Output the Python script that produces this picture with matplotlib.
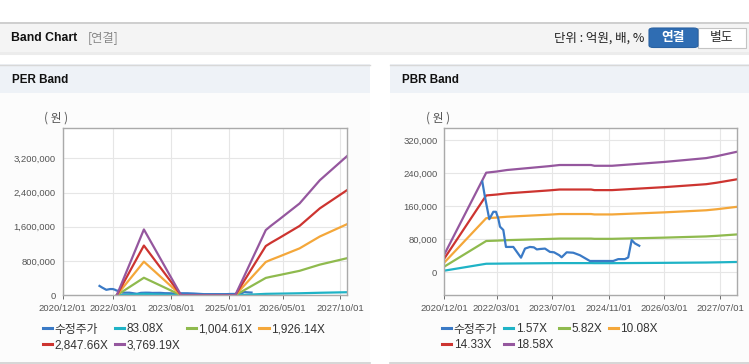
import numpy as np
import pandas as pd
import matplotlib
matplotlib.use("Agg")
import matplotlib.pyplot as plt
import matplotlib.dates as mdates
from matplotlib.patches import Rectangle, FancyBboxPatch
from matplotlib.lines import Line2D
from matplotlib.ticker import FuncFormatter

plt.rcParams['font.family'] = ['Liberation Sans', 'Noto Sans CJK KR', 'DejaVu Sans']

W, H = 749, 364

# ---- data ----
price_dates = ['2021-10-28', '2021-11-20', '2021-12-28', '2022-02-01', '2022-02-24',
               '2022-03-16', '2022-03-31', '2022-04-29', '2022-05-22', '2022-07-25',
               '2022-09-30', '2022-11-04', '2022-12-17', '2023-01-20', '2023-02-15',
               '2023-03-14', '2023-04-27', '2023-06-09', '2023-07-15', '2023-08-29',
               '2023-09-19', '2023-11-02', '2023-12-29', '2024-02-25', '2024-05-22',
               '2024-12-11', '2025-01-24', '2025-03-23', '2025-04-21', '2025-05-21',
               '2025-06-18', '2025-07-26']
price_vals = [219000, 182000, 128000, 146000, 146000,
              130000, 110000, 102000, 61000, 61000,
              35000, 57000, 61000, 60000, 55000,
              56000, 57000, 49000, 48000, 41000,
              36000, 48000, 47000, 41000, 27000,
              27000, 31500, 31500, 35600, 77600,
              69600, 63800]

# EPS base for PER band (원)
eps_dates = ['2022-04-01', '2022-12-01', '2023-11-01', '2025-03-01', '2025-12-01',
             '2026-01-15', '2026-04-01', '2026-10-01', '2027-04-01', '2027-12-01']
eps_vals = [0, 408, 0, 0, 404, 430, 470, 569, 713, 862]
per_multiples = [83.08, 1004.61, 1926.14, 2847.66, 3769.19]
per_labels = ['83.08X', '1,004.61X', '1,926.14X', '2,847.66X', '3,769.19X']

# BPS base for PBR band (원)
bps_dates = ['2020-12-01', '2021-12-01', '2022-03-01', '2022-06-01', '2022-12-01',
             '2023-06-01', '2023-09-01', '2024-06-01', '2024-07-01', '2024-12-01',
             '2025-03-01', '2025-09-01', '2026-03-01', '2026-09-01', '2027-03-01',
             '2027-06-01', '2027-12-01']
bps_vals = [2300, 12950, 13100, 13300, 13550,
            13800, 13950, 13950, 13850, 13850,
            13950, 14150, 14350, 14600, 14850,
            15100, 15700]
pbr_multiples = [1.57, 5.82, 10.08, 14.33, 18.58]
pbr_labels = ['1.57X', '5.82X', '10.08X', '14.33X', '18.58X']

per_xticks = ['2020-12-01', '2022-03-01', '2023-08-01', '2025-01-01', '2026-05-01', '2027-10-01']
pbr_xticks = ['2020-12-01', '2022-03-01', '2023-07-01', '2024-11-01', '2026-03-01', '2027-07-01']
per_yticks = [0, 800000, 1600000, 2400000, 3200000]
pbr_yticks = [0, 80000, 160000, 240000, 320000]

price_color = '#3a7ac6'
band_colors = ['#1fb3c6', '#8fba4e', '#f4a73a', '#cd3430', '#95579e']


def fx(x):
    return x / W


def fy(y):
    return 1 - y / H


fig = plt.figure(figsize=(W / 100, H / 100), dpi=100)
fig.patch.set_facecolor('white')


def rect(x0, y0, x1, y1, color, z=-5, **kw):
    fig.patches.append(Rectangle((fx(x0), fy(y1)), fx(x1 - x0), (y1 - y0) / H,
                                 transform=fig.transFigure, facecolor=color,
                                 edgecolor='none', zorder=z, **kw))


def hline(x0, x1, y, color, lw=1.0):
    fig.add_artist(Line2D([fx(x0), fx(x1)], [fy(y), fy(y)], transform=fig.transFigure,
                          color=color, lw=lw, zorder=-4))


# top header bar
rect(0, 22, W, 53, '#f4f4f4')
hline(0, W, 22.5, '#c8c8c8', 1.2)
hline(0, W, 52.5, '#cfcfcf', 1.0)
hline(0, W, 54, '#ececec', 1.5)
fig.text(fx(11), fy(38), 'Band Chart', fontsize=8.8, fontweight='bold', va='center', color='#111111')
fig.text(fx(88), fy(38), '[연결]', fontsize=8.8, va='center', color='#888888',
         family=['Noto Sans CJK KR'])
fig.text(fx(644), fy(38), '단위 : 억원, 배, %', fontsize=9.0, va='center', ha='right',
         color='#222222', family=['Noto Sans CJK KR', 'DejaVu Sans'])
fig.patches.append(FancyBboxPatch((fx(649), fy(47.5)), fx(49), 19.5 / H,
                                  boxstyle='round,pad=0,rounding_size=0.006',
                                  transform=fig.transFigure, facecolor='#2f6db3',
                                  edgecolor='#2a62a2', lw=0.8, zorder=-3))
fig.add_artist(Rectangle((fx(698), fy(47.5)), fx(48), 19.5 / H, transform=fig.transFigure,
                         facecolor='white', edgecolor='#c4c4c4', lw=0.8, zorder=-3))
fig.text(fx(673.5), fy(38), '연결', fontsize=9.2, va='center', ha='center', color='white',
         fontweight='bold', family=['Noto Sans CJK KR'])
fig.text(fx(722), fy(38), '별도', fontsize=9.2, va='center', ha='center', color='#333333',
         family=['Noto Sans CJK KR'])

# panels
for x0, x1, title in [(0, 370, 'PER Band'), (390, W, 'PBR Band')]:
    rect(x0, 64, x1, 362, '#fcfcfc')
    rect(x0, 64, x1, 92.7, '#eef2f7')
    hline(x0, x1, 64.5, '#d8d8d8', 1.0)
    hline(x0, x1, 362.5, '#cfcfcf', 1.2)
    fig.text(fx(x0 + 11.5), fy(80), title, fontsize=8.4, fontweight='bold', va='center',
             color='#111111')


def make_axes(l, r, t, b):
    ax = fig.add_axes([fx(l), fy(b), fx(r - l), (b - t) / H])
    ax.set_zorder(5)
    ax.set_facecolor('white')
    for s in ax.spines.values():
        s.set_color('#aaaaaa')
        s.set_linewidth(1.0)
    ax.grid(True, color='#e6e6e6', lw=0.8)
    ax.set_axisbelow(True)
    ax.tick_params(labelsize=6.8, colors='#555555', length=3, width=0.6)
    ax.tick_params(axis='y', length=0, pad=5)
    return ax


comma = FuncFormatter(lambda v, p: f'{int(v):,}')

pd_price = pd.to_datetime(price_dates)

# ---- PER ----
ax1 = make_axes(62.7, 347.3, 128.3, 295.3)
eps_d = pd.to_datetime(eps_dates)
eps = np.array(eps_vals, dtype=float)
h_price1, = ax1.plot(pd_price, price_vals, color=price_color, lw=1.6, label='수정주가')
h1 = []
for m, lab, c in zip(per_multiples, per_labels, band_colors):
    h, = ax1.plot(eps_d, eps * m, color=c, lw=1.6, label=lab)
    h1.append(h)
ax1.set_xlim(pd.Timestamp('2020-12-01'), pd.Timestamp('2027-12-04'))
ax1.set_ylim(0, 3900000)
ax1.set_yticks(per_yticks)
ax1.yaxis.set_major_formatter(comma)
ax1.set_xticks(pd.to_datetime(per_xticks))
ax1.xaxis.set_major_formatter(mdates.DateFormatter('%Y/%m/%d'))
fig.text(fx(68.5), fy(118.5), '( 원 )', fontsize=8.5, ha='right', va='center', color='#555555',
         family=['Noto Sans CJK KR'])

# ---- PBR ----
ax2 = make_axes(444.3, 737.3, 128.3, 295.3)
bps_d = pd.to_datetime(bps_dates)
bps = np.array(bps_vals, dtype=float)
h2 = []
for m, lab, c in zip(pbr_multiples, pbr_labels, band_colors):
    h, = ax2.plot(bps_d, bps * m, color=c, lw=1.6, label=lab)
    h2.append(h)
h_price2, = ax2.plot(pd_price, price_vals, color=price_color, lw=1.6, label='수정주가')
ax2.set_xlim(pd.Timestamp('2020-12-01'), pd.Timestamp('2027-11-27'))
ax2.set_ylim(-56000, 348000)
ax2.set_yticks(pbr_yticks)
ax2.yaxis.set_major_formatter(comma)
ax2.set_xticks(pd.to_datetime(pbr_xticks))
ax2.xaxis.set_major_formatter(mdates.DateFormatter('%Y/%m/%d'))
fig.text(fx(450.5), fy(118.5), '( 원 )', fontsize=8.5, ha='right', va='center', color='#555555',
         family=['Noto Sans CJK KR'])

# legends (column-major order so rows read like the original)
leg_kw = dict(ncol=4, frameon=False, fontsize=8.5, handlelength=0.8, handletextpad=0.2,
              columnspacing=0.55, labelspacing=0.3, borderpad=0, borderaxespad=0,
              loc='upper left', bbox_transform=fig.transFigure, labelcolor='#333333')
order1 = [h_price1, h1[3], h1[0], h1[4], h1[1], h1[2]]
leg1 = ax1.legend(order1, [h.get_label() for h in order1],
                  bbox_to_anchor=(fx(42.5), fy(323.5)), **leg_kw)
order2 = [h_price2, h2[3], h2[0], h2[4], h2[1], h2[2]]
leg2 = ax2.legend(order2, [h.get_label() for h in order2],
                  bbox_to_anchor=(fx(442), fy(323.5)), **leg_kw)
for lg in (leg1, leg2):
    for ln in lg.get_lines():
        ln.set_linewidth(2.2)

fig.savefig('out.png', dpi=100)
